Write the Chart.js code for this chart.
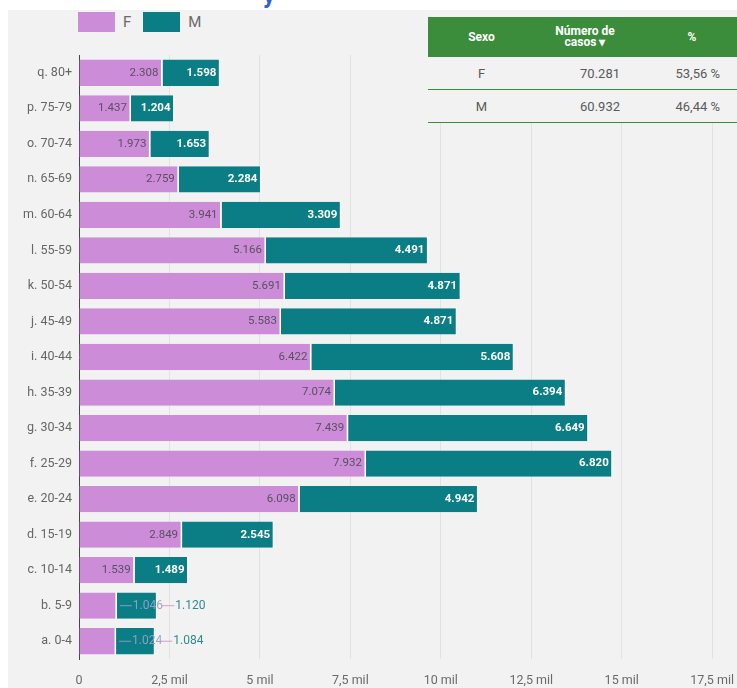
<!DOCTYPE html>
<html>
<head>
<meta charset="utf-8">
<script src="https://cdn.jsdelivr.net/npm/chart.js@4.4.1/dist/chart.umd.min.js"></script>
<style>
  html, body { margin: 0; padding: 0; background: #fff; }
  body { width: 737px; height: 688px; position: relative; overflow: hidden; font-family: Roboto, "Open Sans", sans-serif; }
  #title-cut { position: absolute; left: 0; top: 0; width: 737px; height: 10px; overflow: hidden; }
  #title-cut span { position: absolute; left: 263px; top: -19px; font: bold 24px Roboto, sans-serif; color: #2f5fd0; }
  #panel { position: absolute; left: 8px; top: 10px; width: 729px; height: 678px; background: #f2f2f2; }
  #legend { position: absolute; left: 78px; top: 12px; display: flex; align-items: center; font-size: 15px; color: #6a6a6a; }
  #legend .item { display: flex; align-items: center; margin-right: 12px; }
  #legend .sw { width: 37px; height: 20px; margin-right: 8px; }
  #chart-wrap { position: absolute; left: 8px; top: 40px; width: 740px; height: 648px; }
  #summary { position: absolute; left: 428px; top: 17px; width: 309px; border-collapse: collapse; background: #f2f2f2; font-size: 13px; color: #5a5a5a; table-layout: fixed; }
  #summary th { background: #3b8d3b; color: #fff; font-weight: bold; font-size: 12px; height: 40px; line-height: 11px; padding: 0; }
  #summary td { height: 32px; padding: 0; border-bottom: 1.5px solid #3b8d3b; }
  #summary .c1 { width: 107px; text-align: center; }
  #summary .c2 { width: 100px; text-align: right; padding-right: 15px; }
  #summary .c3 { text-align: right; padding-right: 17px; }
  #summary th.c2 { text-align: center; padding-right: 0; }
  #summary th.c3 { text-align: center; padding-right: 0; padding-left: 12px; }
</style>
</head>
<body>
<div id="title-cut"><span>y</span></div>
<div id="panel"></div>
<div id="legend"></div>
<div id="chart-wrap"><canvas id="chart"></canvas></div>
<table id="summary">
  <thead>
    <tr><th class="c1">Sexo</th><th class="c2">Número de<br>casos &#9662;</th><th class="c3">%</th></tr>
  </thead>
  <tbody id="summary-body"></tbody>
</table>
<script>
// ── Data ─────────────────────────────────────────────────────────────────────

const AGE_GROUPS = [
  'q. 80+', 'p. 75-79', 'o. 70-74', 'n. 65-69', 'm. 60-64', 'l. 55-59',
  'k. 50-54', 'j. 45-49', 'i. 40-44', 'h. 35-39', 'g. 30-34', 'f. 25-29',
  'e. 20-24', 'd. 15-19', 'c. 10-14', 'b. 5-9', 'a. 0-4',
];

const CASES_F = [2308, 1437, 1973, 2759, 3941, 5166, 5691, 5583, 6422, 7074, 7439, 7932, 6098, 2849, 1539, 1046, 1024];
const CASES_M = [1598, 1204, 1653, 2284, 3309, 4491, 4871, 4871, 5608, 6394, 6649, 6820, 4942, 2545, 1489, 1120, 1084];

const SEX_LABELS  = ['F', 'M'];
const SEX_TOTALS  = [70281, 60932];
const SEX_PERCENT = ['53,56 %', '46,44 %'];

const X_MAX  = 17500;
const X_STEP = 2500;

// ── Style ────────────────────────────────────────────────────────────────────

const COLOR_F = '#cc8cd8';
const COLOR_M = '#0a7e84';
const FONT = 'Roboto, "Open Sans", sans-serif';

// ── Helpers ──────────────────────────────────────────────────────────────────

const fmtInt = v => String(v).replace(/\B(?=(\d{3})+(?!\d))/g, '.');
const fmtMil = v => v === 0 ? '0' : (v / 1000).toString().replace('.', ',') + ' mil';

// ── Legend + summary table ───────────────────────────────────────────────────

document.getElementById('legend').innerHTML = SEX_LABELS
  .map((s, i) => `<div class="item"><div class="sw" style="background:${i ? COLOR_M : COLOR_F}"></div>${s}</div>`)
  .join('');

document.getElementById('summary-body').innerHTML = SEX_LABELS
  .map((s, i) => `<tr><td class="c1">${s}</td><td class="c2">${fmtInt(SEX_TOTALS[i])}</td><td class="c3">${SEX_PERCENT[i]}</td></tr>`)
  .join('');

// ── Bar value labels ─────────────────────────────────────────────────────────

const barLabels = {
  id: 'barLabels',
  afterDatasetsDraw(chart) {
    const { ctx } = chart;
    const metaF = chart.getDatasetMeta(0);
    const metaM = chart.getDatasetMeta(1);
    ctx.save();
    ctx.textBaseline = 'middle';
    metaF.data.forEach((barF, i) => {
      const barM = metaM.data[i];
      const y = barF.y;
      const wF = barF.x - barF.base;
      const wM = barM.x - barM.base;
      if (wF > 42 && wM > 42) {
        ctx.textAlign = 'right';
        ctx.font = `11.5px ${FONT}`;
        ctx.fillStyle = '#5a5060';
        ctx.fillText(fmtInt(CASES_F[i]), barF.x - 4, y);
        ctx.font = `bold 11.5px ${FONT}`;
        ctx.fillStyle = '#ffffff';
        ctx.fillText(fmtInt(CASES_M[i]), barM.x - 4, y);
      } else {
        // small bars: labels pushed outside with short leader lines
        ctx.textAlign = 'left';
        ctx.font = `12px ${FONT}`;
        ctx.lineWidth = 1;
        ctx.strokeStyle = 'rgba(150,160,200,0.9)';
        ctx.beginPath(); ctx.moveTo(barF.x + 3, y); ctx.lineTo(barF.x + 15, y); ctx.stroke();
        ctx.fillStyle = 'rgba(150,160,205,0.95)';
        ctx.fillText(fmtInt(CASES_F[i]), barF.x + 16, y);
        ctx.strokeStyle = 'rgba(210,150,200,0.9)';
        ctx.beginPath(); ctx.moveTo(barM.x + 4, y); ctx.lineTo(barM.x + 17, y); ctx.stroke();
        ctx.fillStyle = '#2d8a90';
        ctx.fillText(fmtInt(CASES_M[i]), barM.x + 18, y);
      }
    });
    ctx.restore();
  },
};

// ── Chart ────────────────────────────────────────────────────────────────────

new Chart(document.getElementById('chart'), {
  type: 'bar',
  data: {
    labels: AGE_GROUPS,
    datasets: [
      { label: SEX_LABELS[0], data: CASES_F, backgroundColor: COLOR_F },
      { label: SEX_LABELS[1], data: CASES_M, backgroundColor: COLOR_M },
    ],
  },
  options: {
    indexAxis: 'y',
    responsive: true,
    maintainAspectRatio: false,
    animation: false,
    layout: { padding: { top: 15, right: 0, left: 0, bottom: 0 } },
    datasets: {
      bar: {
        categoryPercentage: 0.74,
        barPercentage: 1,
        borderColor: '#ffffff',
        borderWidth: { right: 1.5 },
        borderSkipped: false,
      },
    },
    plugins: {
      legend: { display: false },
      tooltip: { enabled: false },
    },
    scales: {
      x: {
        stacked: true,
        min: 0,
        max: X_MAX,
        afterFit: s => { s.height = 29; },
        ticks: {
          stepSize: X_STEP,
          color: '#6a6a6a',
          font: { family: FONT, size: 12.5 },
          padding: 14,
          maxRotation: 0,
          callback: v => fmtMil(v),
        },
        grid: { color: '#e2e2e2', drawTicks: false },
        border: { display: false },
      },
      y: {
        stacked: true,
        afterFit: s => { s.width = 71; },
        ticks: {
          color: '#666',
          font: { family: FONT, size: 12.5 },
          padding: 7,
        },
        grid: { display: false, drawTicks: false },
        border: { display: true, color: '#444', width: 1 },
      },
    },
  },
  plugins: [barLabels],
});
</script>
</body>
</html>
